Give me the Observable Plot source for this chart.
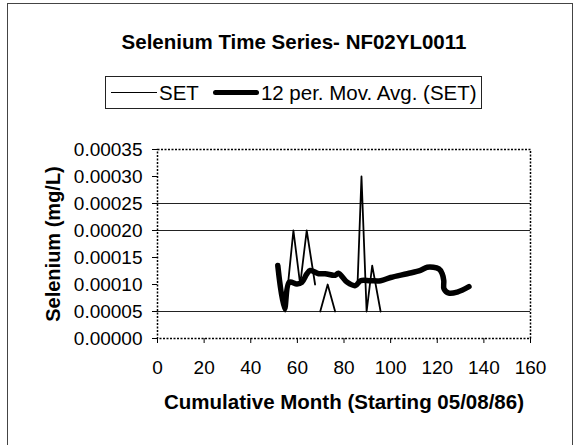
<!DOCTYPE html>
<html>
<head>
<meta charset="utf-8">
<script src="https://cdn.jsdelivr.net/npm/d3@7"></script>
<script src="https://cdn.jsdelivr.net/npm/@observablehq/plot@0.6"></script>
<style>
  html, body { margin: 0; padding: 0; background: #fff; }
  #wrap { position: relative; width: 579px; height: 445px; overflow: hidden; font-family: "Liberation Sans", Arial, sans-serif; color: #000; }
  #border { position: absolute; left: 7px; top: 3px; width: 566px; height: 460px; border: 1.5px solid #444; box-sizing: border-box; }
  #title { position: absolute; top: 30px; left: 294px; transform: translateX(-50%); white-space: nowrap; font-weight: bold; font-size: 20.5px; }
  #legend { position: absolute; left: 105px; top: 76px; width: 377px; height: 33px; border: 1.5px solid #222; box-sizing: border-box; display: flex; align-items: center; font-size: 20.5px; white-space: nowrap; }
  #legend .thin { display: inline-block; width: 46px; height: 1.5px; background: #000; margin-left: 5px; margin-right: 2px; }
  #legend .thick { display: inline-block; width: 46px; height: 5px; border-radius: 3px; background: #000; margin-left: 14px; margin-right: 2px; }
  #chart { position: absolute; left: 0; top: 120px; }
</style>
</head>
<body>
<div id="wrap">
  <div id="border"></div>
  <div id="title"></div>
  <div id="legend"></div>
  <div id="chart"></div>
</div>
<script>
// ---- data ----
const titleText = "Selenium Time Series- NF02YL0011";
const seriesNames = ["SET", "12 per. Mov. Avg. (SET)"];
const xLabel = "Cumulative Month (Starting 05/08/86)";
const yLabel = "Selenium (mg/L)";

// SET observations (null = break in the line)
const setMonth = [52, 54.8, 58.3, 61.2, 64, 67.6, null, 69.8, 73, 76.2, null, 85.8, 87.5, 89.7, 92.1, 95.7];
const setValue = [0.00013, 0.00005, 0.0002, 0.0001, 0.0002, 0.0001, null, 0.00005, 0.0001, 0.00005, null, 0.0001, 0.0003, 0.00005, 0.000135, 0.00005];

// 12-period moving average
const maMonth = [51.6, 54.5, 56.5, 59.8, 61.9, 64.1, 65.5, 69.1, 71.9, 76.2, 77.6, 81.4, 84.9, 87.1, 91.4, 95.7, 100, 107.1, 112.8, 115.7, 120.7, 122.1, 122.8, 122.9, 125, 128.6, 133.6];
const maValue = [0.000135, 0.000055, 0.000104, 0.000101, 0.000104, 0.00012, 0.000126, 0.00012, 0.00012, 0.000117, 0.000121, 0.000104, 0.000098, 0.000107, 0.000107, 0.000107, 0.000113, 0.00012, 0.000126, 0.000132, 0.000129, 0.00012, 0.000107, 0.000092, 0.000084, 0.000086, 0.000096];

const xTicks = [0, 20, 40, 60, 80, 100, 120, 140, 160];
const yTicks = [0, 0.00005, 0.0001, 0.00015, 0.0002, 0.00025, 0.0003, 0.00035];
const gridValues = [0.00005, 0.0002, 0.00025];

// ---- tables ----
const setData = setMonth.map((m, i) => ({month: m, value: setValue[i]}));
const maData = maMonth.map((m, i) => ({month: m, value: maValue[i]}));

document.getElementById("title").textContent = titleText;
const lg = document.getElementById("legend");
lg.innerHTML = `<span class="thin"></span><span>${seriesNames[0]}</span><span class="thick"></span><span>${seriesNames[1]}</span>`;

const chart = Plot.plot({
  width: 579,
  height: 325,
  marginLeft: 157,
  marginRight: 49,
  marginTop: 29,
  marginBottom: 107,
  style: {fontFamily: "'Liberation Sans', Arial, sans-serif", fontSize: "19px", color: "#000", background: "transparent", overflow: "visible"},
  x: {domain: [0, 160]},
  y: {domain: [0, 0.00035]},
  marks: [
    Plot.ruleY(gridValues, {stroke: "#222", strokeWidth: 1.2}),
    Plot.frame({stroke: "#000", strokeWidth: 1.5, strokeDasharray: "2,1.5"}),
    Plot.axisY(yTicks, {tickSize: 5, tickPadding: 10, tickFormat: d => d.toFixed(5), label: null, stroke: "#000"}),
    Plot.axisX(xTicks, {tickSize: 5, tickPadding: 17, label: null, stroke: "#000"}),
    Plot.line(setData, {x: "month", y: "value", defined: d => d.value != null, stroke: "#000", strokeWidth: 1.8}),
    Plot.line(maData, {x: "month", y: "value", stroke: "#000", strokeWidth: 5.5, strokeLinejoin: "round", strokeLinecap: "round", curve: "catmull-rom"}),
    Plot.text([yLabel], {frameAnchor: "left", dx: -104, rotate: -90, textAnchor: "middle", lineAnchor: "middle", fontWeight: "bold", fontSize: 20}),
    Plot.text([xLabel], {frameAnchor: "bottom", dy: 64, textAnchor: "middle", lineAnchor: "middle", fontWeight: "bold", fontSize: 20.5})
  ]
});
document.getElementById("chart").appendChild(chart);
</script>
</body>
</html>
